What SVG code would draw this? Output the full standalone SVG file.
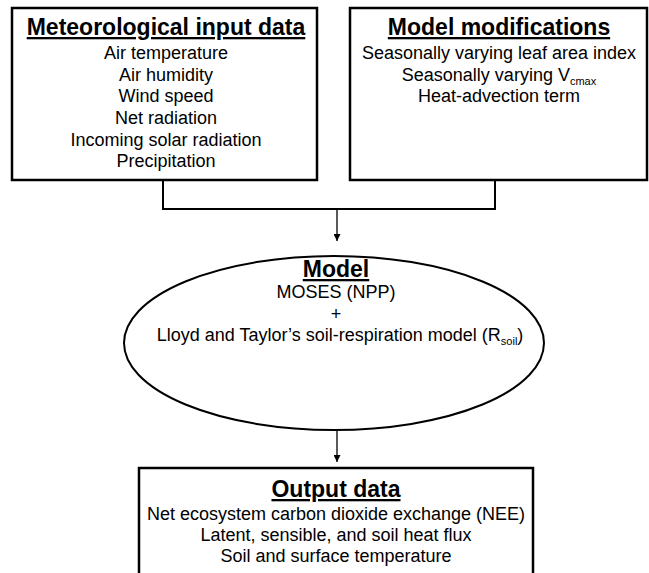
<svg xmlns="http://www.w3.org/2000/svg" width="649" height="573" viewBox="0 0 649 573">
<defs>
<style>
text{font-family:"Liberation Sans",Arial,sans-serif;fill:#000;text-anchor:middle}
.t{font-size:23px;font-weight:bold;text-decoration:underline}
.b{font-size:18px}
.s{font-size:11px}
.box{fill:#fff;stroke:#000;stroke-width:2.5}
.ln{fill:none;stroke:#000;stroke-width:2}
.ar{fill:none;stroke:#000;stroke-width:1.3}
</style>
<marker id="ah" viewBox="0 0 10 10" refX="10" refY="5" markerWidth="7" markerHeight="7" markerUnits="userSpaceOnUse" orient="auto"><path d="M0,0 L10,5 L0,10 Z" fill="#000"/></marker>
</defs>
<rect width="649" height="573" fill="#fff"/>
<g id="connectors">
<path class="ln" d="M163,180 V209 H495 V180"/>
<path class="ar" d="M337,209 V241" marker-end="url(#ah)"/>
<path class="ar" d="M337,430 V462" marker-end="url(#ah)"/>
</g>
<g id="met">
<rect class="box" x="12" y="8" width="305" height="172"/>
<text class="t" x="166" y="35">Meteorological input data</text>
<text class="b" x="166" y="59">Air temperature</text>
<text class="b" x="166" y="81">Air humidity</text>
<text class="b" x="166" y="102">Wind speed</text>
<text class="b" x="166" y="124">Net radiation</text>
<text class="b" x="166" y="146">Incoming solar radiation</text>
<text class="b" x="166" y="167">Precipitation</text>
</g>
<g id="mods">
<rect class="box" x="350" y="8" width="297" height="172"/>
<text class="t" x="499" y="35">Model modifications</text>
<text class="b" x="499" y="59">Seasonally varying leaf area index</text>
<text class="b" x="499" y="81">Seasonally varying V<tspan class="s" dy="4">cmax</tspan></text>
<text class="b" x="499" y="102">Heat-advection term</text>
</g>
<g id="model">
<ellipse fill="#fff" stroke="#000" stroke-width="2" cx="334" cy="343" rx="210" ry="87"/>
<text class="t" x="336" y="277">Model</text>
<text class="b" x="336" y="298">MOSES (NPP)</text>
<text class="b" x="336" y="320">+</text>
<text class="b" x="340" y="341">Lloyd and Taylor’s soil-respiration model (R<tspan class="s" dy="4">soil</tspan><tspan dy="-4">)</tspan></text>
</g>
<g id="output">
<rect class="box" x="139" y="468" width="394" height="120"/>
<text class="t" x="336" y="497">Output data</text>
<text class="b" x="336" y="520">Net ecosystem carbon dioxide exchange (NEE)</text>
<text class="b" x="336" y="541">Latent, sensible, and soil heat flux</text>
<text class="b" x="336" y="562">Soil and surface temperature</text>
</g>
</svg>
